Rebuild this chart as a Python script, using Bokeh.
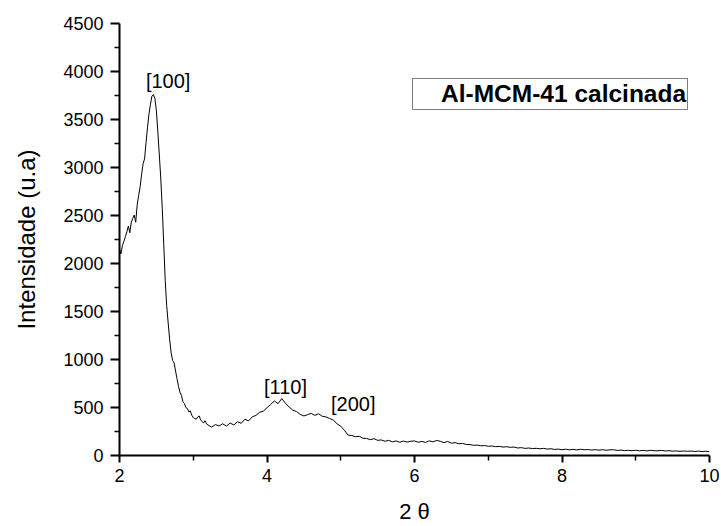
import numpy as np
from bokeh.plotting import figure
from bokeh.models import (Range1d, FixedTicker, Legend, LegendItem, ColumnDataSource)
from bokeh.core.properties import value
from bokeh.embed import file_html
from bokeh.resources import INLINE

# --- data ---
# segment A: 2θ = 2.00 .. 3.20, step 0.02
y_a = [2150, 2100, 2190, 2230, 2280, 2330, 2390, 2320, 2430, 2470,
       2505, 2430, 2610, 2710, 2800, 2930, 3040, 3090, 3260, 3420,
       3560, 3660, 3745, 3760, 3720, 3590, 3370, 3130, 2880, 2570,
       2200, 1820, 1560, 1380, 1210, 1070, 990, 965, 880, 800,
       720, 660, 625, 560, 540, 500, 490, 455, 465, 420,
       395, 385, 378, 400, 412, 372, 352, 340, 362, 330, 318]
# segment B: 2θ = 3.25 .. 10.00, step 0.05
y_b = [295, 322, 308, 330, 306, 338, 318, 352, 335, 378,
       360, 402, 418, 450, 462, 498, 532, 568, 540, 592,
       545, 505, 472, 458, 428, 412, 425, 438, 418, 435,
       408, 402, 385, 368, 330, 305, 262, 212, 208, 196,
       200, 180, 178, 165, 175, 158, 162, 148, 158, 142,
       152, 138, 150, 140, 148, 152, 138, 147, 136, 153,
       142, 157, 148, 134, 146, 128, 134, 122, 126, 115,
       114, 106, 108, 101, 104, 96, 99, 92, 95, 88,
       91, 85, 88, 78, 82, 74, 78, 72, 75, 70,
       74, 67, 70, 63, 67, 60, 66, 59, 64, 58,
       65, 60, 62, 57, 61, 56, 60, 55, 59, 60,
       53, 56, 51, 54, 50, 55, 49, 53, 48, 54,
       50, 49, 53, 47, 50, 45, 48, 43, 47, 44,
       46, 42, 46, 41, 44, 40]

x_a = np.round(2.00 + 0.02 * np.arange(len(y_a)), 2)
x_b = np.round(3.25 + 0.05 * np.arange(len(y_b)), 2)
two_theta = np.concatenate([x_a, x_b])
intensity = np.array(y_a + y_b, dtype=float)

peak_names = ["[100]", "[110]", "[200]"]
peak_label_x = [2.66, 4.25, 5.17]
peak_label_y = [3896, 712, 536]

x_ticks = [2, 4, 6, 8, 10]
x_minor = [3, 5, 7, 9]
y_ticks = [0, 500, 1000, 1500, 2000, 2500, 3000, 3500, 4000, 4500]
y_minor = [250, 750, 1250, 1750, 2250, 2750, 3250, 3750, 4250]

sample_name = "Al-MCM-41 calcinada"

FONT = "Liberation Sans"

p = figure(width=721, height=526, output_backend="svg", toolbar_location=None,
           x_range=Range1d(2, 10), y_range=Range1d(0, 4500),
           min_border_left=119, min_border_right=12, min_border_top=23,
           min_border_bottom=69)
p.outline_line_color = None
p.xgrid.visible = False
p.ygrid.visible = False
p.background_fill_color = "white"
p.border_fill_color = "white"

src = ColumnDataSource(dict(x=two_theta, y=intensity))
main = p.line("x", "y", source=src, line_color="black", line_width=1)
ghost = p.line("x", "y", source=src, line_alpha=0)

p.text(x=peak_label_x, y=peak_label_y, text=peak_names,
       text_align="center", text_baseline="middle",
       text_font=value(FONT), text_font_size="20px", text_color="black")

for ax in (p.xaxis[0], p.yaxis[0]):
    ax.axis_line_width = 2
    ax.axis_line_color = "black"
    ax.major_tick_line_width = 2
    ax.minor_tick_line_width = 1.5
    ax.major_tick_line_color = "black"
    ax.minor_tick_line_color = "black"
    ax.major_tick_in = 0
    ax.minor_tick_in = 0
    ax.major_label_text_font = FONT
    ax.major_label_text_font_size = "18px"
    ax.major_label_text_color = "black"
    ax.axis_label_text_font = FONT
    ax.axis_label_text_font_style = "normal"
    ax.axis_label_text_color = "black"

p.xaxis.ticker = FixedTicker(ticks=x_ticks, minor_ticks=x_minor)
p.yaxis.ticker = FixedTicker(ticks=y_ticks, minor_ticks=y_minor)
p.xaxis.major_tick_out = 7
p.xaxis.minor_tick_out = 5
p.yaxis.major_tick_out = 9
p.yaxis.minor_tick_out = 5
p.xaxis.major_label_standoff = 6
p.yaxis.major_label_standoff = 7
p.xaxis.axis_label = "2 θ"
p.xaxis.axis_label_text_font_size = "22px"
p.xaxis.axis_label_standoff = 14
p.yaxis.axis_label = "Intensidade (u.a)"
p.yaxis.axis_label_text_font_size = "24px"
p.yaxis.axis_label_standoff = 20

legend = Legend(items=[LegendItem(label=sample_name, renderers=[ghost])],
                location=(293, 345), orientation="vertical")
legend.border_line_color = "black"
legend.border_line_width = 1
legend.background_fill_color = "white"
legend.background_fill_alpha = 1
legend.label_text_font = FONT
legend.label_text_font_style = "bold"
legend.label_text_font_size = "24.5px"
legend.label_text_color = "black"
legend.padding = 1
legend.margin = 0
legend.spacing = 0
legend.glyph_width = 22
legend.glyph_height = 24
legend.label_height = 24
legend.label_standoff = 5
p.add_layout(legend, "center")

open("out.html", "w").write(file_html(p, INLINE))
